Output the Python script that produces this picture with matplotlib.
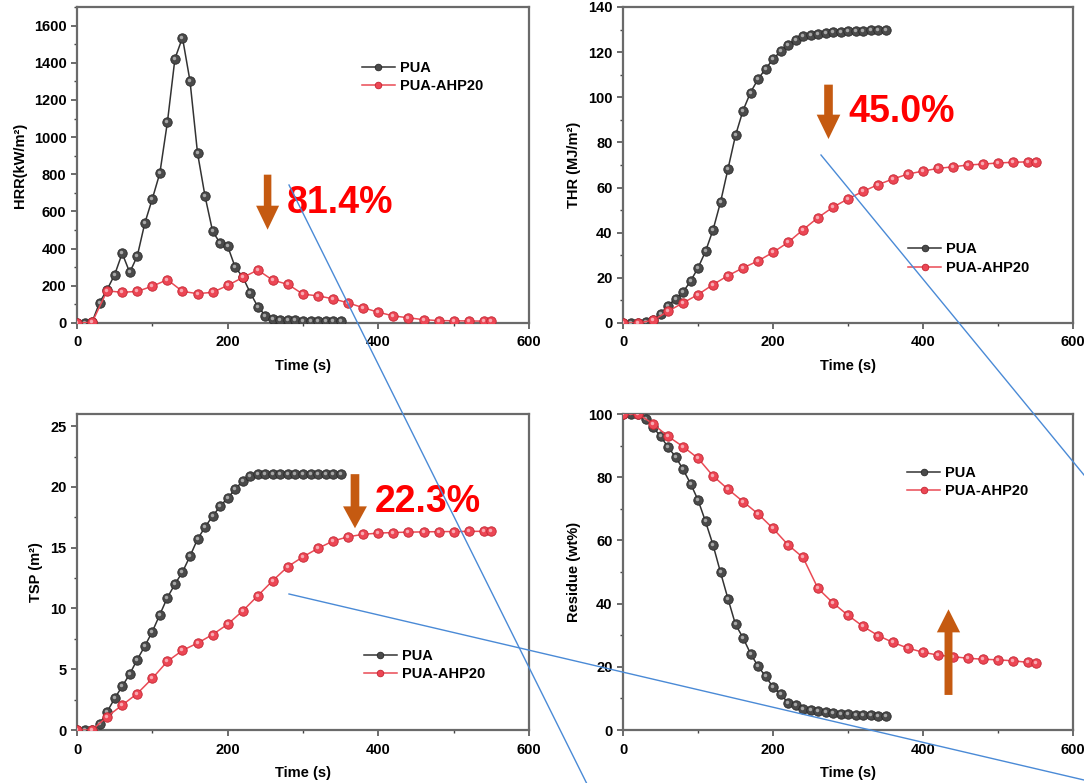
import matplotlib
matplotlib.use("Agg")
import matplotlib.pyplot as plt
from matplotlib.patches import FancyArrow
from matplotlib.lines import Line2D
from matplotlib.transforms import offset_copy
from matplotlib.ticker import MultipleLocator

plt.rcParams["font.family"] = ["Liberation Sans", "DejaVu Sans"]
plt.rcParams["font.weight"] = "bold"
plt.rcParams["axes.labelweight"] = "bold"

# ---- cone calorimeter data ----
time_pua = [0, 10, 20, 30, 40, 50, 60, 70, 80, 90, 100, 110, 120, 130, 140, 150, 160, 170,
            180, 190, 200, 210, 220, 230, 240, 250, 260, 270, 280, 290, 300, 310, 320, 330, 340, 350]
time_ahp = [0, 20, 40, 60, 80, 100, 120, 140, 160, 180, 200, 220, 240, 260, 280, 300, 320, 340,
            360, 380, 400, 420, 440, 460, 480, 500, 520, 540, 550]

hrr_pua = [0, 0, 5, 110, 180, 260, 375, 272, 360, 537, 668, 807, 1080, 1422, 1535, 1302, 914, 681,
           494, 429, 413, 300, 248, 162, 88, 40, 24, 18, 15, 14, 13, 12, 12, 11, 11, 10]
hrr_ahp = [0, 3, 173, 165, 170, 198, 233, 170, 158, 165, 202, 245, 285, 230, 208, 155, 146, 130,
           108, 82, 58, 38, 28, 18, 13, 12, 11, 10, 10]

thr_pua = [0, 0, 0, 0.5, 1.5, 4, 7.7, 10.7, 13.7, 18.5, 24.4, 31.7, 41.2, 53.5, 68.3, 83.1, 94.1,
           102.1, 108, 112.6, 116.8, 120.4, 123.3, 125.5, 127, 127.8, 128.2, 128.5, 128.8, 129,
           129.2, 129.4, 129.5, 129.6, 129.8, 130]
thr_ahp = [0, 0, 1.2, 5.2, 8.9, 12.6, 17, 21, 24.4, 27.5, 31.3, 35.7, 41.3, 46.7, 51.3, 55, 58.3,
           61.3, 63.8, 66, 67.3, 68.5, 69.2, 70, 70.4, 70.9, 71.2, 71.4, 71.5]

tsp_pua = [0, 0, 0, 0.5, 1.5, 2.6, 3.6, 4.6, 5.8, 6.9, 8.1, 9.5, 10.9, 12, 13, 14.3, 15.7, 16.7,
           17.6, 18.4, 19.1, 19.8, 20.5, 20.9, 21.05, 21.05, 21.05, 21.05, 21.05, 21.05, 21.05,
           21.05, 21.05, 21.05, 21.05, 21.05]
tsp_ahp = [0, 0, 1.1, 2.05, 3.0, 4.25, 5.65, 6.55, 7.15, 7.85, 8.7, 9.8, 11.05, 12.3, 13.45, 14.25,
           14.95, 15.55, 15.9, 16.1, 16.2, 16.25, 16.28, 16.3, 16.32, 16.33, 16.34, 16.35, 16.35]

res_pua = [100, 100, 100, 98.3, 95.8, 93, 89.5, 86.5, 82.5, 78, 72.8, 66, 58.6, 49.9, 41.5, 33.4,
           29.2, 24.2, 20.2, 17, 13.6, 11.3, 8.7, 7.8, 6.6, 6.2, 5.9, 5.6, 5.4, 5.2, 5.0, 4.9, 4.7,
           4.6, 4.5, 4.3]
res_ahp = [100, 100, 96.9, 92.9, 89.7, 86, 80.4, 76.2, 72.3, 68.4, 63.8, 58.6, 54.6, 44.8, 40.2,
           36.3, 32.8, 29.9, 27.7, 25.9, 24.6, 23.7, 23.2, 22.7, 22.4, 22.2, 21.9, 21.4, 21.2]

series_names = ["PUA", "PUA-AHP20"]
reduction_labels = ["81.4%", "45.0%", "22.3%"]

W, H = 1084, 783
fig = plt.figure(figsize=(W / 100, H / 100), dpi=100)
fig.patch.set_facecolor("white")


def px_axes(left, top, width, height):
    return fig.add_axes([left / W, 1 - (top + height) / H, width / W, height / H])


ax_hrr = px_axes(77, 7, 452, 316)
ax_thr = px_axes(623, 7, 450, 316)
ax_tsp = px_axes(77, 414, 452, 316)
ax_res = px_axes(623, 414, 450, 316)

ARROW = "#c55a11"
PCT = "#ff0000"


def draw_series(ax, t, y, line_c, face, edge, hi, z, label):
    h, = ax.plot(t, y, "-", color=line_c, lw=1.1, marker="o", ms=6.8, mfc=face, mec=edge,
                 mew=0.6, zorder=z, label=label)
    shifted = offset_copy(ax.transData, fig=fig, x=-1.0, y=1.0, units="dots")
    ax.plot(t, y, linestyle="none", marker="o", ms=2.5, mfc=hi, mec="none",
            transform=shifted, zorder=z + 0.1)
    return h


def style(ax, ylabel, ymax, ymajor, yminor, legend_xy):
    ax.set_xlim(0, 600)
    ax.set_ylim(0, ymax)
    ax.xaxis.set_major_locator(MultipleLocator(200))
    ax.xaxis.set_minor_locator(MultipleLocator(100))
    ax.yaxis.set_major_locator(MultipleLocator(ymajor))
    ax.yaxis.set_minor_locator(MultipleLocator(yminor))
    ax.tick_params(which="major", direction="out", length=4, width=1.1, labelsize=10.5, pad=3.5,
                   color="#444444")
    ax.tick_params(which="minor", direction="out", length=2.5, width=1.0, color="#444444")
    ax.tick_params(axis="x", pad=5)
    for s in ax.spines.values():
        s.set_color("#6a6a6a")
        s.set_linewidth(1.6)
    ax.set_xlabel("Time (s)", fontsize=10.5, labelpad=7)
    ax.set_ylabel(ylabel, fontsize=10.5, labelpad=5)
    leg = ax.legend(loc="upper left", bbox_to_anchor=legend_xy, frameon=False, fontsize=10.5,
                    handlelength=2.25, handletextpad=0.35, borderpad=0, borderaxespad=0,
                    labelspacing=0.3, numpoints=1, markerscale=0.7)
    return leg


panels = [
    (ax_hrr, hrr_pua, hrr_ahp, "HRR(kW/m²)", 1700, 200, 100, (0.63, 0.83)),
    (ax_thr, thr_pua, thr_ahp, "THR (MJ/m²)", 140, 20, 10, (0.634, 0.255)),
    (ax_tsp, tsp_pua, tsp_ahp, "TSP (m²)", 26, 5, 2.5, (0.635, 0.257)),
    (ax_res, res_pua, res_ahp, "Residue (wt%)", 100, 20, 10, (0.632, 0.836)),
]

for ax, ypua, yahp, ylab, ymax, ymaj, ymin, lxy in panels:
    draw_series(ax, time_pua, ypua, "#333333", "#4a4a4a", "#2a2a2a", "#a8a8a8", 3, series_names[0])
    draw_series(ax, time_ahp, yahp, "#ea4a55", "#ec4654", "#c42632", "#f8aab2", 4, series_names[1])
    style(ax, ylab, ymax, ymaj, ymin, lxy)

# ---- reduction arrows and percentages ----
ax_hrr.add_patch(FancyArrow(253, 798, 0, 502 - 798, width=10, head_width=30.5, head_length=129,
                            length_includes_head=True, color=ARROW, lw=0, zorder=6))
ax_hrr.text(279, 592, reduction_labels[0], color=PCT, fontsize=27, fontweight="bold",
            ha="left", va="baseline", zorder=7)

ax_thr.add_patch(FancyArrow(274, 105.6, 0, 81.5 - 105.6, width=11.5, head_width=31.5,
                            head_length=10.8, length_includes_head=True, color=ARROW, lw=0, zorder=6))
ax_thr.text(300, 89, reduction_labels[1], color=PCT, fontsize=27, fontweight="bold",
            ha="left", va="baseline", zorder=7)

ax_tsp.add_patch(FancyArrow(369, 21.05, 0, 16.6 - 21.05, width=11.5, head_width=31.7,
                            head_length=1.8, length_includes_head=True, color=ARROW, lw=0, zorder=6))
ax_tsp.text(395.5, 17.95, reduction_labels[2], color=PCT, fontsize=27, fontweight="bold",
            ha="left", va="baseline", zorder=7)

ax_res.add_patch(FancyArrow(434, 11.1, 0, 38.2 - 11.1, width=10.6, head_width=31,
                            head_length=7.3, length_includes_head=True, color=ARROW, lw=0, zorder=6))

# ---- thin connector lines across the figure (pixel coordinates) ----
connectors = [((289, 185), (586.5, 783)), ((821, 155), (1084, 475)), ((289, 594), (1084, 780))]
for (x0, y0), (x1, y1) in connectors:
    fig.add_artist(Line2D([x0 / W, x1 / W], [1 - y0 / H, 1 - y1 / H], transform=fig.transFigure,
                          color="#4a8ad6", lw=1.0, zorder=20))

fig.savefig("out.png", dpi=100, facecolor="white")
